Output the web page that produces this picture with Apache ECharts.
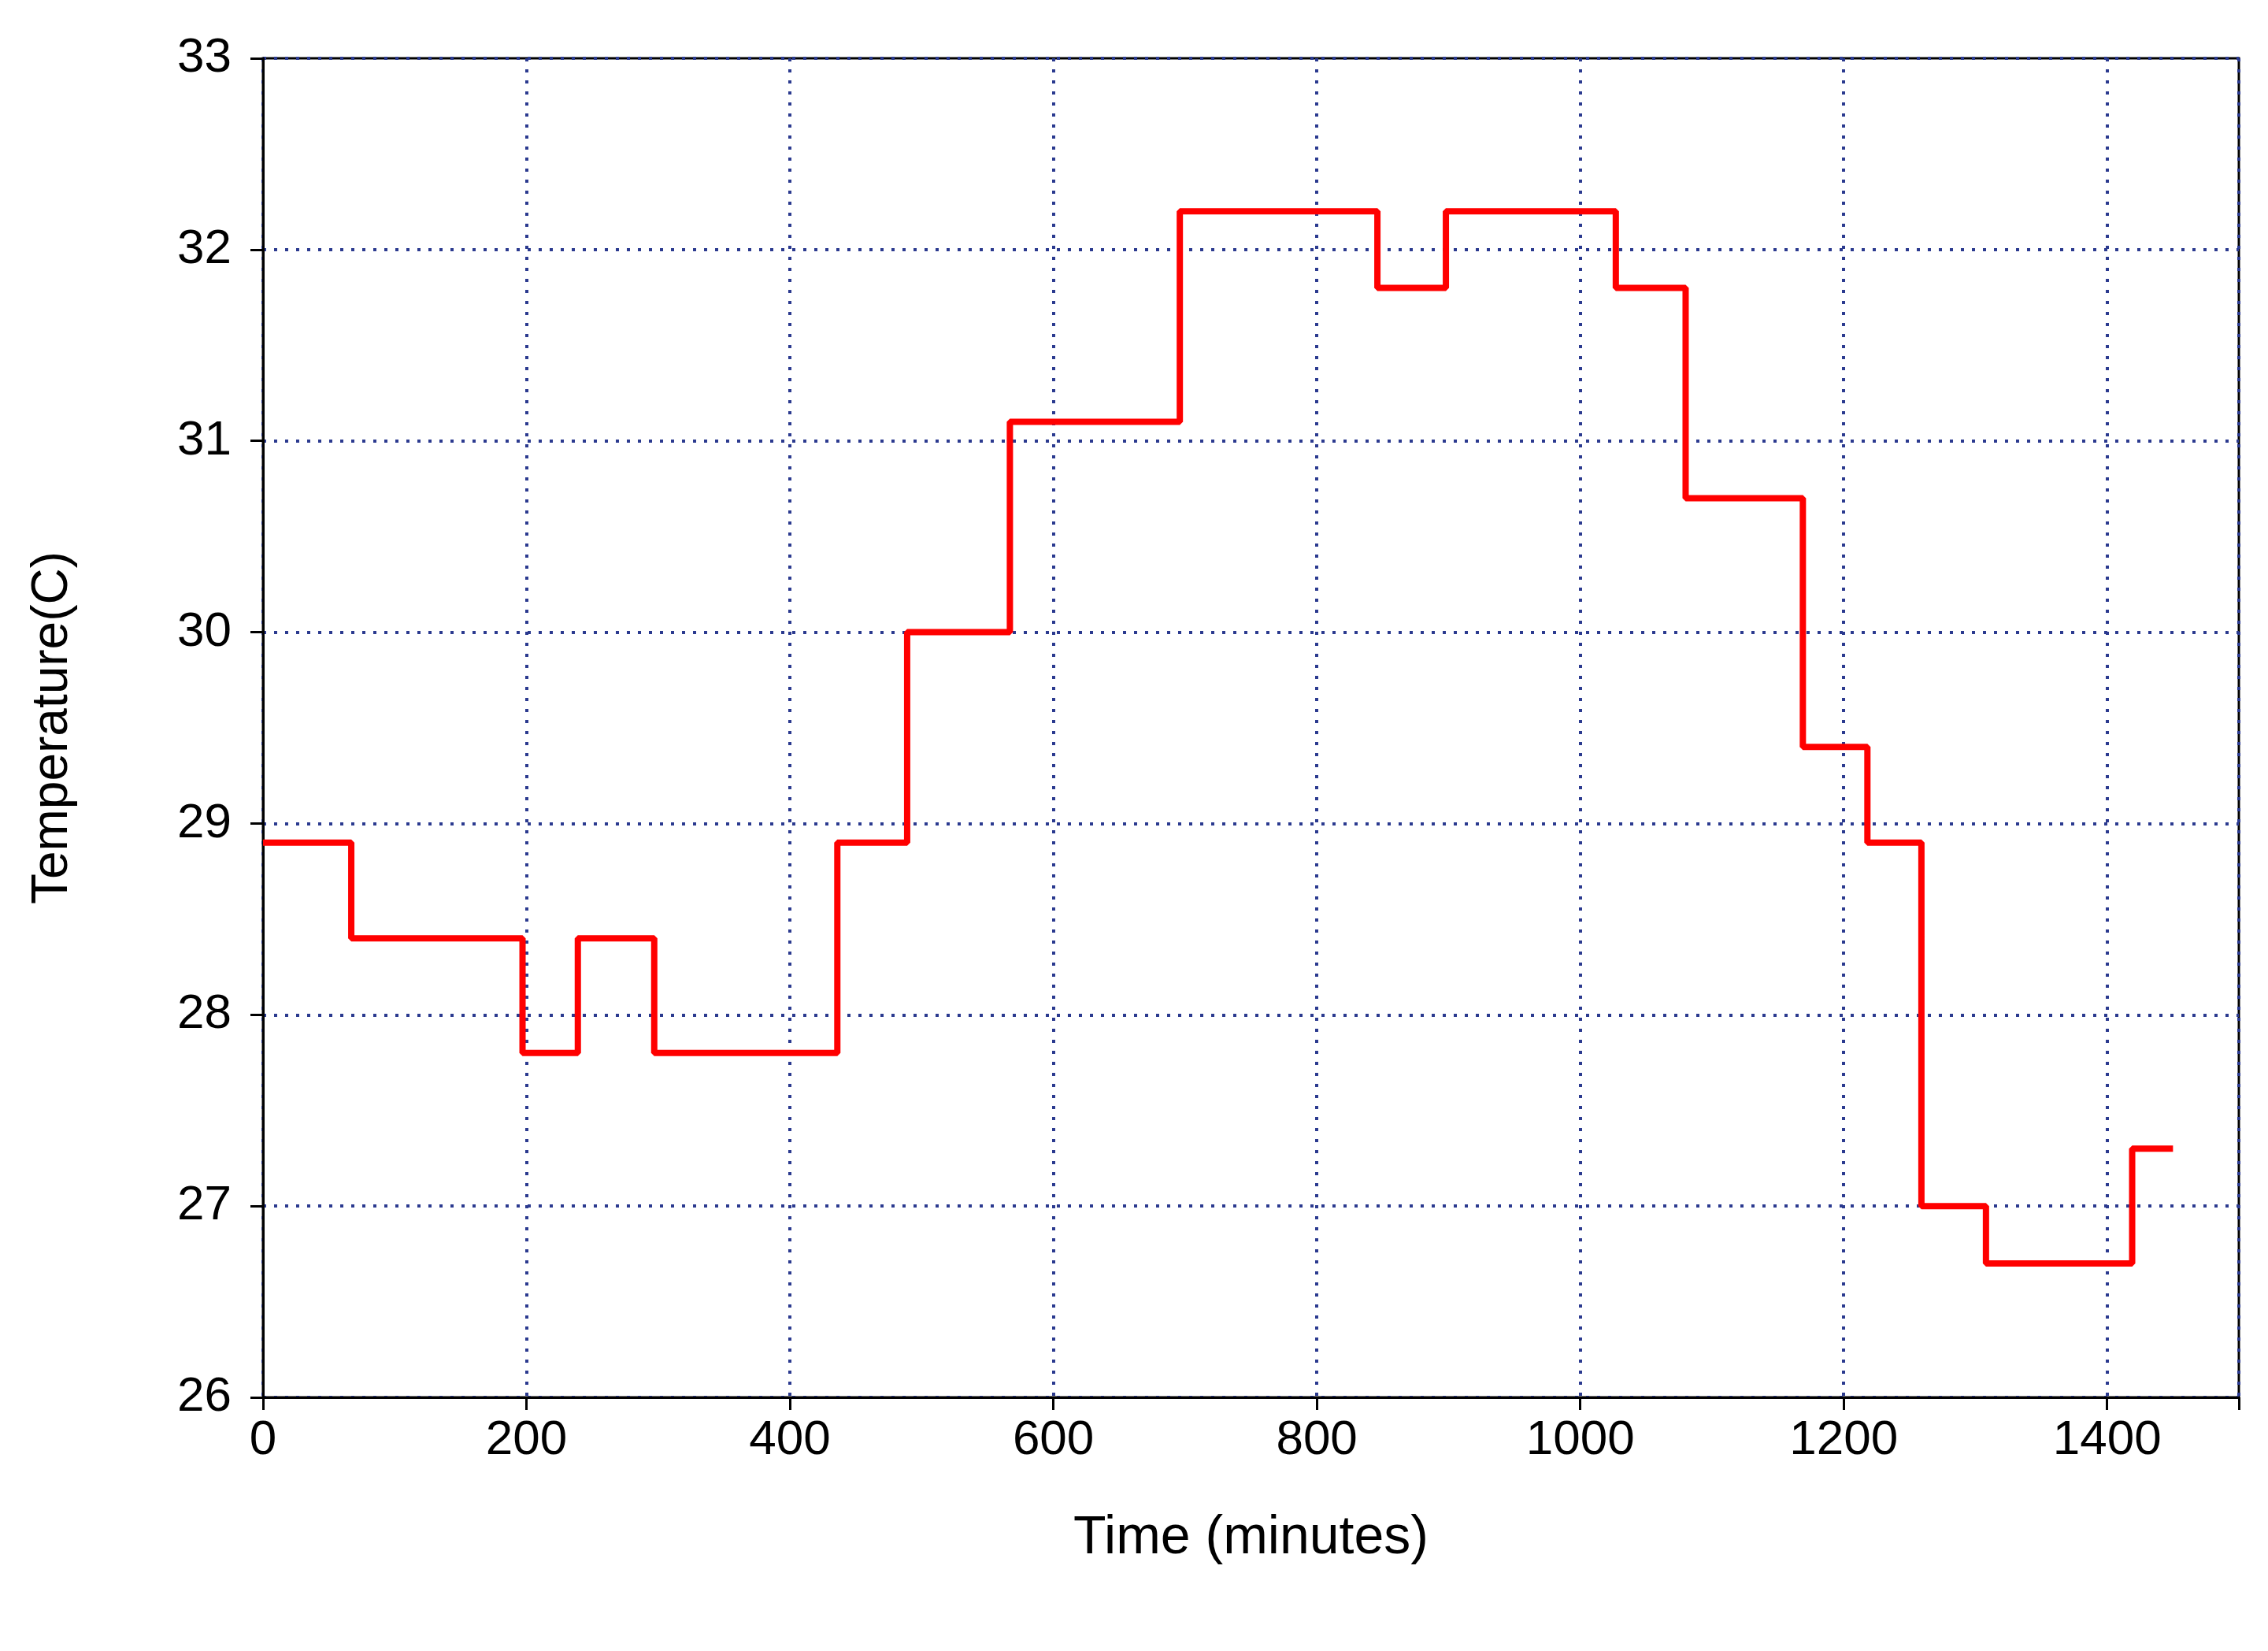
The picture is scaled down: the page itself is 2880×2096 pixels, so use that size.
<!DOCTYPE html>
<html>
<head>
<meta charset="utf-8">
<script src="https://cdn.jsdelivr.net/npm/echarts@6/dist/echarts.min.js"></script>
<style>html,body{margin:0;padding:0;background:#fff}#chart{width:2880px;height:2096px}</style>
</head>
<body>
<div id="chart"></div>
<script>
// step start times (minutes) and the temperature held from that time
var times = [0, 67, 197, 239, 297, 436, 489, 567, 696, 846, 898, 1027, 1080, 1169, 1218, 1259, 1308, 1419, 1450];
var temps = [28.9, 28.4, 27.8, 28.4, 27.8, 28.9, 30.0, 31.1, 32.2, 31.8, 32.2, 31.8, 30.7, 29.4, 28.9, 27.0, 26.7, 27.3, 27.3];

var pts = [];
for (var i = 0; i < times.length; i++) pts.push([times[i], temps[i]]);

var chart = echarts.init(document.getElementById('chart'));
var font = 'Liberation Sans, Arial, sans-serif';
var grid = {type: [4, 10], color: '#2b3a8f', width: 4};
chart.setOption({
    animation: false,
    grid: {left: 334, right: 37, top: 74, bottom: 322, show: true, borderColor: '#000', borderWidth: 3},
    xAxis: {
        type: 'value', min: 0, max: 1500, interval: 200,
        name: 'Time (minutes)', nameLocation: 'middle', nameGap: 145,
        nameTextStyle: {fontFamily: font, fontSize: 68, color: '#000'},
        axisLine: {lineStyle: {color: '#000', width: 3}},
        axisTick: {show: true, length: 16, lineStyle: {color: '#000', width: 3}},
        axisLabel: {fontFamily: font, fontSize: 62, color: '#000', margin: 24,
            formatter: function (v) { return v > 1400 ? '' : String(v); }},
        splitLine: {lineStyle: grid}
    },
    yAxis: {
        type: 'value', min: 26, max: 33, interval: 1,
        name: 'Temperature(C)', nameLocation: 'middle', nameGap: 235,
        nameTextStyle: {fontFamily: font, fontSize: 64, color: '#000'},
        axisLine: {show: true, lineStyle: {color: '#000', width: 3}},
        axisTick: {show: true, length: 16, lineStyle: {color: '#000', width: 3}},
        axisLabel: {fontFamily: font, fontSize: 62, color: '#000', margin: 40},
        splitLine: {lineStyle: grid}
    },
    series: [{
        type: 'line', step: 'end', data: pts, symbol: 'none',
        lineStyle: {color: '#ff0000', width: 8}
    }]
});
</script>
</body>
</html>
